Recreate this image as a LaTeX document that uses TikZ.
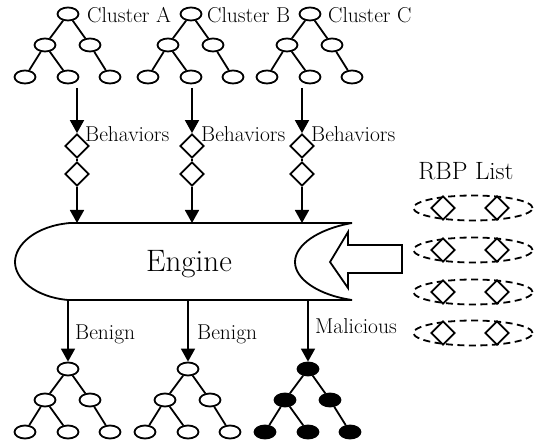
\documentclass[tikz,border=0pt]{standalone}
\usetikzlibrary{shapes.geometric,arrows.meta}
\tikzset{
  lw/.style={line width=1.8pt},
  tnode/.style={ellipse, draw, line width=1.8pt, minimum width=21pt, minimum height=13pt, inner sep=0pt, fill=white},
  badnode/.style={tnode, fill=black},
  tedge/.style={line width=1.8pt},
  flow/.style={line width=1.8pt, -{Triangle[length=13pt,width=14pt]}},
  beh/.style={diamond, draw, line width=1.8pt, minimum size=24pt, inner sep=0pt, fill=white},
  rbpbox/.style={ellipse, draw, dash pattern=on 7pt off 4.5pt, line width=1.8pt, minimum width=119pt, minimum height=25pt, inner sep=0pt},
  lbl/.style={font=\fontsize{21.5}{24}\selectfont, inner sep=0pt, anchor=base west},
}
% one cluster tree: name prefix, x of root, y of root, node style
\newcommand\clustertree[4]{%
  \node[#4] (#1r) at (#2,#3) {};
  \node[#4] (#1a) at (#2-23,#3+31) {};
  \node[#4] (#1b) at (#2+22,#3+31) {};
  \node[#4] (#1x) at (#2-43,#3+63) {};
  \node[#4] (#1y) at (#2,#3+63) {};
  \node[#4] (#1z) at (#2+42,#3+63) {};
  \draw[tedge] (#1r) -- (#1a) (#1r) -- (#1b) (#1a) -- (#1x) (#1a) -- (#1y) (#1b) -- (#1z);
}
\begin{document}
\begin{tikzpicture}[x=1pt, y=-1pt]
\useasboundingbox (0,0) rectangle (539,441);

% input clusters
\clustertree{A}{68}{14}{tnode}
\clustertree{B}{191}{14}{tnode}
\clustertree{C}{310}{14}{tnode}
\node[lbl] (labA) at (87,23) {Cluster A};
\node[lbl] (labB) at (207,23) {Cluster B};
\node[lbl] (labC) at (328,23) {Cluster C};

% engine body
\draw[lw, fill=white] (70,223) -- (352,223)
  .. controls (318,229) and (295,245) .. (295,262)
  .. controls (295,279) and (318,295) .. (352,300)
  -- (68,300)
  .. controls (35,297) and (15,279) .. (15,262)
  .. controls (15,245) and (35,226) .. (70,223) -- cycle;
\node[font=\fontsize{31}{34}\selectfont, inner sep=0pt, anchor=base] (engine) at (189,272) {Engine};

% behaviour streams into the engine
\foreach \i/\x/\lx in {1/77/85, 2/192/201, 3/302/311} {
  \coordinate (s\i) at (\x,88);
  \node[beh] (d\i a) at (\x,146) {};
  \node[beh] (d\i b) at (\x,174) {};
  \coordinate (t\i) at (\x,223);
  \draw[flow] (s\i) -- (d\i a);
  \draw[lw] (d\i a) -- (d\i b);
  \draw[flow] (d\i b) -- (t\i);
  \node[lbl] (beh\i) at (\lx,142) {Behaviors};
}

% RBP list
\node[font=\fontsize{25}{29}\selectfont, inner sep=0pt, anchor=base] (rbptitle) at (466,180) {RBP List};
\foreach \i/\y in {1/208, 2/250, 3/292, 4/333} {
  \node[rbpbox] (rbp\i) at (473,\y) {};
  \node[beh] (rbp\i a) at (443,\y) {};
  \node[beh] (rbp\i b) at (497,\y) {};
}

% hollow arrow feeding the list into the engine
\draw[lw, fill=white] (330,262) -- (348,232) -- (348,245) -- (402,245)
  -- (402,273) -- (348,273) -- (348,288) -- cycle;

% classified clusters
\clustertree{P}{68}{369}{tnode}
\clustertree{Q}{188}{369}{tnode}
\clustertree{M}{308}{369}{badnode}
\coordinate (o1) at (68,300);
\coordinate (o2) at (188,300);
\coordinate (o3) at (308,300);
\draw[flow] (o1) -- (Pr);
\draw[flow] (o2) -- (Qr);
\draw[flow] (o3) -- (Mr);
\node[lbl] (ben1) at (75,339) {Benign};
\node[lbl] (ben2) at (197,339) {Benign};
\node[lbl] (mal) at (315,334) {Malicious};
\end{tikzpicture}
\end{document}
